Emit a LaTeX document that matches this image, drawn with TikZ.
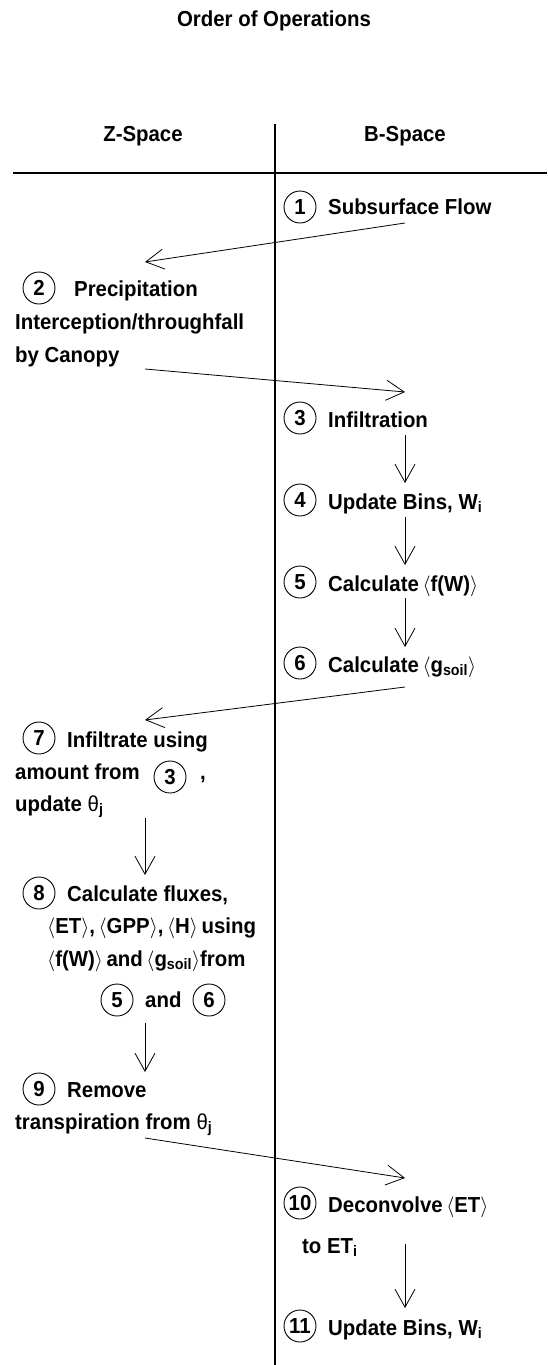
\documentclass[tikz,border=0pt]{standalone}
\usepackage{fontspec}
\setmainfont{Liberation Sans}[FakeStretch=0.94]
\usetikzlibrary{arrows.meta}
\newcommand\mysz{\fontsize{21.7}{24}\selectfont}
\newcommand\la{$\langle$}
\newcommand\ra{$\rangle$}
\newcommand\thet{{\mdseries θ}}
\begin{document}
\begin{tikzpicture}[x=1pt,y=-1pt,
  txt/.style={anchor=base west, inner sep=0pt, font=\mysz\bfseries},
  ctxt/.style={anchor=base, inner sep=0pt, font=\mysz\bfseries},
  num/.style={circle, draw, line width=0.9pt, minimum size=32pt, inner sep=0pt, font=\mysz\bfseries},
  rule/.style={line width=1.1pt},
  arr/.style={-{Straight Barb[length=18pt,width=20pt]}, line width=0.8pt}]
\useasboundingbox (0,0) rectangle (547,1365);
% title and headers
\node[ctxt] (title) at (274,26) {Order of Operations};
\node[ctxt] (zs) at (143,141) {Z-Space};
\node[ctxt] (bs) at (405,141) {B-Space};
\coordinate (vtop) at (275,124); \coordinate (vbot) at (275,1365);
\coordinate (hl) at (13,173); \coordinate (hr) at (547,173);
\draw[rule] (vtop) -- (vbot);
\draw[rule] (hl) -- (hr);
% step 1
\node[num] (c1) at (300,207) {1};
\node[txt] (t1) at (328,214) {Subsurface Flow};
% step 2
\node[num] (c2) at (39,288) {2};
\node[txt] (t2a) at (74,296) {Precipitation};
\node[txt] (t2b) at (15,329) {Interception/throughfall};
\node[txt] (t2c) at (15,362) {by Canopy};
% step 3
\node[num] (c3) at (300,418) {3};
\node[txt] (t3) at (328,427) {Infiltration};
% step 4
\node[num] (c4) at (300,500) {4};
\node[txt] (t4) at (328,509) {Update Bins, W\textsubscript{i}};
% step 5
\node[num] (c5) at (300,582) {5};
\node[txt] (t5) at (328,591) {Calculate\,\la f(W)\ra};
% step 6
\node[num] (c6) at (300,663) {6};
\node[txt] (t6) at (328,672) {Calculate\,\la g\textsubscript{soil}\ra};
% step 7
\node[num] (c7) at (39,738) {7};
\node[txt] (t7a) at (67,747) {Infiltrate using};
\node[txt] (t7b) at (15,779) {amount from};
\node[num] (c7r) at (170,777) {3};
\node[txt] (t7c) at (200,779) {,};
\node[txt] (t7d) at (15,811) {update \thet\textsubscript{j}};
% step 8
\node[num] (c8) at (39,893) {8};
\node[txt] (t8a) at (67,901) {Calculate fluxes,};
\node[txt] (t8b) at (47,933) {\la ET\ra,\,\la GPP\ra,\,\la H\ra\,using};
\node[txt] (t8c) at (47,966) {\la f(W)\ra\,and\,\la g\textsubscript{soil}\ra from};
\node[num] (c8a) at (117,1000) {5};
\node[txt] (t8d) at (145,1007) {and};
\node[num] (c8b) at (209,1000) {6};
% step 9
\node[num] (c9) at (39,1089) {9};
\node[txt] (t9a) at (67,1097) {Remove};
\node[txt] (t9b) at (15,1129) {transpiration from \thet\textsubscript{j}};
% step 10
\node[num] (c10) at (300,1203) {10};
\node[txt] (t10a) at (328,1212) {Deconvolve\,\la ET\ra};
\node[txt] (t10b) at (302,1253) {to ET\textsubscript{i}};
% step 11
\node[num] (c11) at (300,1326) {11};
\node[txt] (t11) at (328,1335) {Update Bins, W\textsubscript{i}};
% connectors
\coordinate (a1s) at (405,223);  \coordinate (a1e) at (145,262);
\coordinate (a2s) at (145,369);  \coordinate (a2e) at (405,392);
\coordinate (a3s) at (405,435);  \coordinate (a3e) at (405,483);
\coordinate (a4s) at (405,517);  \coordinate (a4e) at (405,565);
\coordinate (a5s) at (405,598);  \coordinate (a5e) at (405,647);
\coordinate (a6s) at (405,687);  \coordinate (a6e) at (145,720);
\coordinate (a7s) at (145,818);  \coordinate (a7e) at (145,875);
\coordinate (a8s) at (145,1023); \coordinate (a8e) at (145,1072);
\coordinate (a9s) at (145,1138); \coordinate (a9e) at (405,1178);
\coordinate (a10s) at (405,1244); \coordinate (a10e) at (405,1308);
\foreach \i in {1,...,10} {\draw[arr] (a\i s) -- (a\i e);}
\end{tikzpicture}
\end{document}
